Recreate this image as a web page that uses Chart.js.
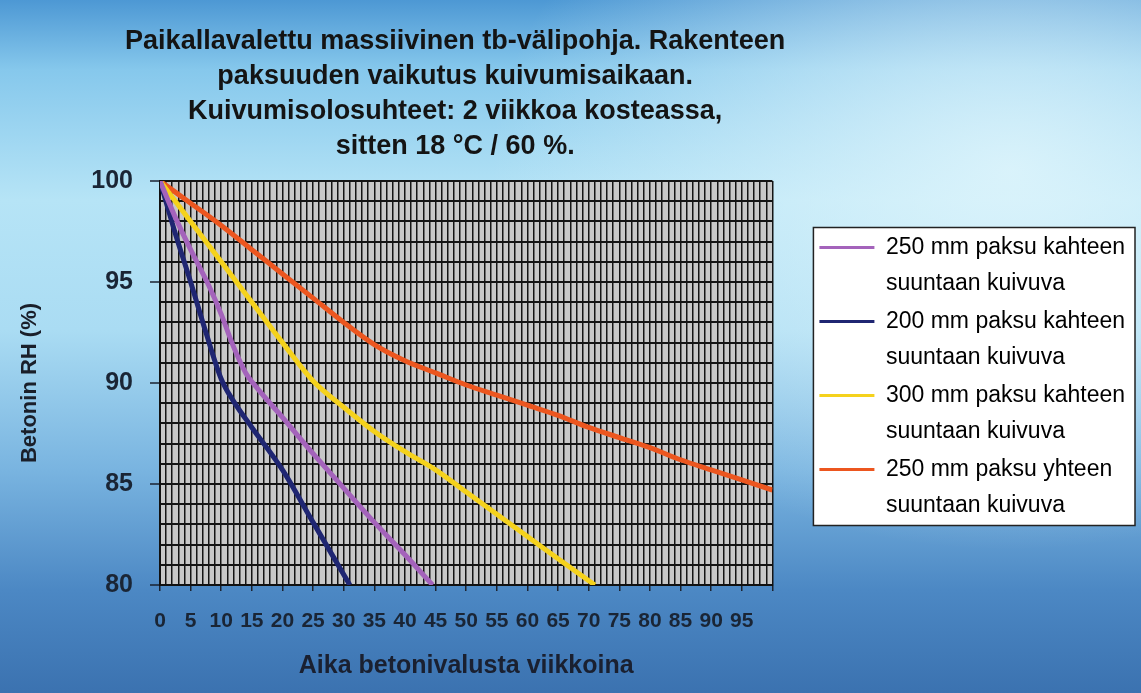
<!DOCTYPE html>
<html>
<head>
<meta charset="utf-8">
<title>Rakenteen paksuuden vaikutus kuivumisaikaan</title>
<script src="https://cdn.jsdelivr.net/npm/chart.js@4.4.1/dist/chart.umd.min.js"></script>
<style>
  html, body { margin: 0; padding: 0; }
  body {
    width: 1141px;
    height: 693px;
    overflow: hidden;
    background:
      radial-gradient(ellipse 520px 380px at 1010px 170px, rgba(225,246,252,0.85), rgba(225,246,252,0) 100%),
      linear-gradient(180deg, #4d98d4 0px, #86c8ec 70px, #b6e4f6 200px, #aadcf3 330px, #79b4e0 470px, #4c88c4 590px, #3b72b0 693px);
  }
  #wrap { position: absolute; left: 0; top: 0; width: 1141px; height: 693px; }
</style>
</head>
<body>
<div id="wrap"><canvas id="rhChart" width="1141" height="693"></canvas></div>
<script>
"use strict";

const titleLines = [
    'Paikallavalettu massiivinen tb-välipohja. Rakenteen',
    'paksuuden vaikutus kuivumisaikaan.',
    'Kuivumisolosuhteet: 2 viikkoa kosteassa,',
    'sitten 18 °C / 60 %.'
];
const xTitle = 'Aika betonivalusta viikkoina';
const yTitle = 'Betonin RH (%)';

const seriesLabels = [
    '250 mm paksu kahteen suuntaan kuivuva',
    '200 mm paksu kahteen suuntaan kuivuva',
    '300 mm paksu kahteen suuntaan kuivuva',
    '250 mm paksu yhteen suuntaan kuivuva'
];
const seriesColors = ['#a463bb', '#1f2672', '#f5d21c', '#ec561f'];

// weeks / RH (%)
const weeks250two = [0, 2.5, 5, 8, 10, 12, 14, 16, 20, 25, 30, 35, 40, 44.5];
const rh250two = [100, 98.2, 96.6, 94.8, 93.4, 91.8, 90.5, 89.7, 88.3, 86.5, 84.8, 83.1, 81.5, 80];

const weeks200two = [0, 2.5, 5, 7.5, 10, 12, 15, 20, 25, 31];
const rh200two = [100, 97.4, 95, 92.5, 90.2, 89.1, 87.8, 85.7, 83.1, 80];

const weeks300two = [0, 5, 10, 15, 20, 25, 30, 35, 40, 45, 50, 55, 60, 65, 71];
const rh300two = [100, 98, 96, 94, 92, 90.1, 88.8, 87.6, 86.6, 85.7, 84.6, 83.5, 82.4, 81.3, 80];

const weeks250one = [0, 5, 10, 15, 20, 25, 30, 35, 40, 45, 50, 55, 60, 65, 70, 75, 80, 85, 90, 95, 100];
const rh250one = [100, 98.9, 97.8, 96.6, 95.4, 94.2, 93.0, 91.9, 91.1, 90.5, 89.9, 89.4, 88.9, 88.4, 87.8, 87.3, 86.8, 86.2, 85.7, 85.2, 84.7];

const xTicksStep = 5;
const yTicksStep = 5;

const LEGEND_FONT = 23;
const LEGEND_LINE = 36;

const toPoints = (xs, ys) => xs.map((x, i) => ({x: x, y: ys[i]}));
const splitLabel = (label) => label.replace(' suuntaan', '\nsuuntaan').split('\n');
const tickMark = (step) => (c) => (c.tick && c.tick.value % step === 0) ? '#1a2230' : 'rgba(0,0,0,0)';

Chart.defaults.font.family = "'Liberation Sans', Arial, sans-serif";
Chart.defaults.color = '#1a2535';

// grey plot background, white legend frame, wider title box
const backdrop = {
    id: 'backdrop',
    afterLayout(chart) {
        const t = chart.titleBlock;
        if (!t) {
            return;
        }
        // title in the picture is a bit wider than the plot and sits slightly left of its centre
        const mid = (chart.chartArea.left + chart.chartArea.right) / 2 - 11;
        t.left = mid - 345;
        t.right = mid + 345;
        t.width = 690;
    },
    beforeDraw(chart) {
        const {ctx, chartArea: a, legend} = chart;
        ctx.save();
        ctx.fillStyle = '#c8c8c8';
        ctx.fillRect(a.left, a.top, a.right - a.left, a.bottom - a.top);

        if (legend && legend.columnSizes && legend.columnSizes.length) {
            const pad = legend.options.labels.padding;
            const colH = legend.columnSizes[0].height;
            const y0 = (legend.top + pad + legend.bottom - colH) / 2;
            const top = y0 + LEGEND_FONT / 2 - 20;
            const bottom = y0 + colH - pad - LEGEND_LINE + LEGEND_FONT / 2 + 20;
            const left = legend.left + pad - 6;
            const right = legend.right;
            ctx.fillStyle = '#ffffff';
            ctx.fillRect(left, top, right - left, bottom - top);
            ctx.strokeStyle = '#222222';
            ctx.lineWidth = 1.5;
            ctx.strokeRect(left, top, right - left, bottom - top);
        }
        ctx.restore();
    }
};

const seriesData = [
    toPoints(weeks250two, rh250two),
    toPoints(weeks200two, rh200two),
    toPoints(weeks300two, rh300two),
    toPoints(weeks250one, rh250one)
];

new Chart(document.getElementById('rhChart'), {
    type: 'line',
    plugins: [backdrop],
    data: {
        datasets: seriesData.map((pts, i) => ({
            label: seriesLabels[i],
            data: pts,
            borderColor: seriesColors[i],
            backgroundColor: seriesColors[i],
            borderWidth: 5,
            cubicInterpolationMode: 'monotone',
            pointRadius: 0,
            fill: false
        }))
    },
    options: {
        responsive: false,
        animation: false,
        layout: {
            padding: {top: 12, left: 10, right: 6, bottom: 8}
        },
        scales: {
            x: {
                type: 'linear',
                min: 0,
                max: 100,
                afterFit(s) { s.height = 100; },
                border: {display: true, color: '#111111', width: 2},
                grid: {
                    color: '#141414',
                    lineWidth: 1.5,
                    tickLength: 6,
                    tickWidth: 1.5,
                    tickColor: tickMark(xTicksStep)
                },
                ticks: {
                    stepSize: 1,
                    autoSkip: false,
                    maxRotation: 0,
                    padding: 18,
                    color: '#1a2535',
                    font: {size: 21, weight: 'bold'},
                    callback: (v) => (v % xTicksStep === 0 && v < 100) ? v : ''
                },
                title: {
                    display: true,
                    text: xTitle,
                    color: '#1a2030',
                    font: {size: 25, weight: 'bold'},
                    padding: {top: 0, bottom: 4}
                }
            },
            y: {
                type: 'linear',
                min: 80,
                max: 100,
                afterFit(s) { s.width = 150; },
                border: {display: true, color: '#111111', width: 2},
                grid: {
                    color: '#141414',
                    lineWidth: 2,
                    tickLength: 10,
                    tickWidth: 1.5,
                    tickColor: tickMark(yTicksStep)
                },
                ticks: {
                    stepSize: 1,
                    autoSkip: false,
                    padding: 17,
                    color: '#1a2535',
                    font: {size: 25, weight: 'bold'},
                    callback: (v) => v % yTicksStep === 0 ? v : ''
                },
                title: {
                    display: true,
                    text: yTitle,
                    color: '#1a1f2a',
                    font: {size: 22, weight: 'bold'},
                    padding: {top: 7, bottom: 0}
                }
            },
            gap: {
                position: 'right',
                display: true,
                grid: {display: false, drawTicks: false},
                border: {display: false},
                ticks: {display: false},
                afterFit(s) { s.width = 45; }
            }
        },
        plugins: {
            title: {
                display: true,
                text: titleLines,
                fullSize: false,
                color: '#141414',
                font: {size: 27, weight: 'bold', lineHeight: '35px'},
                padding: {top: 12.5, bottom: 16.5}
            },
            legend: {
                position: 'right',
                fullSize: false,
                align: 'center',
                maxWidth: 340,
                labels: {
                    boxWidth: 55,
                    boxHeight: 3,
                    padding: 2,
                    color: '#2a2a2a',
                    font: {size: LEGEND_FONT, lineHeight: LEGEND_LINE + 'px'},
                    generateLabels: (chart) => chart.data.datasets.map((ds, i) => ({
                        text: splitLabel(ds.label),
                        fillStyle: ds.borderColor,
                        strokeStyle: ds.borderColor,
                        lineWidth: 0,
                        hidden: false,
                        datasetIndex: i
                    }))
                }
            },
            tooltip: {enabled: false}
        }
    }
});
</script>
</body>
</html>
